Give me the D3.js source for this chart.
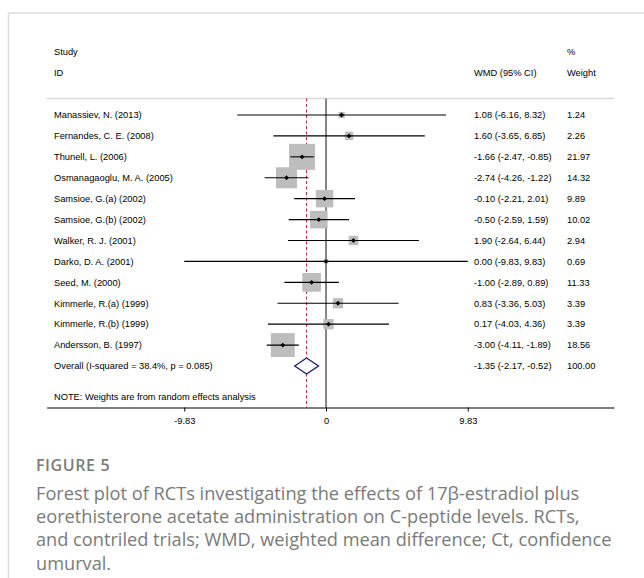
<!DOCTYPE html>
<html>
<head>
<meta charset="utf-8">
<script src="https://cdn.jsdelivr.net/npm/d3@7"></script>
<style>
  html, body { margin: 0; padding: 0; background: #fff; }
  svg { display: block; }
  .plot text { font-family: "Liberation Sans", Arial, sans-serif; font-size: 9.3px; fill: #000; }
  .caption text { font-family: "Open Sans", sans-serif; fill: #7a7a7a; }
</style>
</head>
<body>
<div id="chart"></div>
<script>
// Study data
const studies = [
  "Manassiev, N. (2013)",
  "Fernandes, C. E. (2008)",
  "Thunell, L. (2006)",
  "Osmanagaoglu, M. A. (2005)",
  "Samsioe, G.(a) (2002)",
  "Samsioe, G.(b) (2002)",
  "Walker, R. J. (2001)",
  "Darko, D. A. (2001)",
  "Seed, M. (2000)",
  "Kimmerle, R.(a) (1999)",
  "Kimmerle, R.(b) (1999)",
  "Andersson, B. (1997)"
];
const wmd   = [1.08, 1.60, -1.66, -2.74, -0.10, -0.50, 1.90, 0.00, -1.00, 0.83, 0.17, -3.00];
const lower = [-6.16, -3.65, -2.47, -4.26, -2.21, -2.59, -2.64, -9.83, -2.89, -3.36, -4.03, -4.11];
const upper = [8.32, 6.85, -0.85, -1.22, 2.01, 1.59, 6.44, 9.83, 0.89, 5.03, 4.36, -1.89];
const weights = [1.24, 2.26, 21.97, 14.32, 9.89, 10.02, 2.94, 0.69, 11.33, 3.39, 3.39, 18.56];

const overallLabel = "Overall  (I-squared = 38.4%, p = 0.085)";
const overall = { est: -1.35, lo: -2.17, hi: -0.52, weight: 100.00 };
const tickValues = [-9.83, 0, 9.83];
const tickLabels = ["-9.83", "0", "9.83"];
const note = "NOTE: Weights are from random effects analysis";

const captionTitle = "FIGURE 5";
const captionLines = [
  "Forest plot of RCTs investigating the effects of 17\u03b2-estradiol plus",
  "eorethisterone acetate administration on C-peptide levels. RCTs,",
  "and contriled trials; WMD, weighted mean difference; Ct, confidence",
  "umurval."
];

const width = 644, height = 578;
const svg = d3.select('#chart').append('svg')
  .attr('width', width)
  .attr('height', height);

// frame (top and left rules)
svg.append('line').attr('x1', 8.5).attr('x2', width).attr('y1', 13).attr('y2', 13)
  .attr('stroke', '#dcdcdc').attr('stroke-width', 1.5);
svg.append('line').attr('x1', 8.5).attr('x2', 8.5).attr('y1', 13).attr('y2', height)
  .attr('stroke', '#dcdcdc').attr('stroke-width', 1.5);

const plot = svg.append('g').attr('class', 'plot');

const x = d3.scaleLinear().domain([-19.37, 19.97]).range([46.7, 614]);
const rowIdx = d3.range(studies.length + 1);
const y = d3.scalePoint().domain(rowIdx).range([115, 366]);
const boxSide = d3.scaleSqrt().domain([0, 1]).range([0, 5.55]);

const textX = 54, wmdX = 474, wtX = 567;
const sepY = 98.5, axisY = 407.5;

// header
plot.append('text').attr('x', textX).attr('y', 52).attr('dy', '0.35em').text('Study');
plot.append('text').attr('x', textX).attr('y', 73).attr('dy', '0.35em').text('ID');
plot.append('text').attr('x', wmdX).attr('y', 73).attr('dy', '0.35em').text('WMD (95% CI)');
plot.append('text').attr('x', wtX).attr('y', 52).attr('dy', '0.35em').text('%');
plot.append('text').attr('x', wtX).attr('y', 73).attr('dy', '0.35em').text('Weight');

plot.append('line')
  .attr('x1', x.range()[0]).attr('x2', x.range()[1])
  .attr('y1', sepY).attr('y2', sepY)
  .attr('stroke', '#d9d9d9').attr('stroke-width', 1.5);

// no-effect line
plot.append('line')
  .attr('x1', x(0)).attr('x2', x(0))
  .attr('y1', sepY).attr('y2', axisY)
  .attr('stroke', '#858585').attr('stroke-width', 2);

// overall effect dashed line
plot.append('line')
  .attr('x1', x(overall.est)).attr('x2', x(overall.est))
  .attr('y1', sepY).attr('y2', axisY)
  .attr('stroke', '#b0283a').attr('stroke-width', 1)
  .attr('stroke-dasharray', '3,2.5');

const rows = studies.map((s, i) => ({
  name: s, est: wmd[i], lo: lower[i], hi: upper[i], w: weights[i], i
}));

const g = plot.selectAll('g.row').data(rows).enter().append('g').attr('class', 'row');

g.append('rect')
  .attr('x', d => x(d.est) - boxSide(d.w) / 2)
  .attr('y', d => y(d.i) - boxSide(d.w) / 2)
  .attr('width', d => boxSide(d.w))
  .attr('height', d => boxSide(d.w))
  .attr('fill', '#bdbdbd');

g.append('line')
  .attr('x1', d => x(d.lo)).attr('x2', d => x(d.hi))
  .attr('y1', d => y(d.i)).attr('y2', d => y(d.i))
  .attr('stroke', '#000').attr('stroke-width', 1.1);

g.append('path')
  .attr('d', d => {
    const cx = x(d.est), cy = y(d.i), r = 2.4;
    return `M${cx - r},${cy}L${cx},${cy - r}L${cx + r},${cy}L${cx},${cy + r}Z`;
  })
  .attr('fill', '#000');

g.append('text').attr('x', textX).attr('y', d => y(d.i)).attr('dy', '0.35em').text(d => d.name);
g.append('text').attr('x', wmdX).attr('y', d => y(d.i)).attr('dy', '0.35em')
  .text(d => `${d.est.toFixed(2)} (${d.lo.toFixed(2)}, ${d.hi.toFixed(2)})`);
g.append('text').attr('x', wtX).attr('y', d => y(d.i)).attr('dy', '0.35em')
  .text(d => d.w.toFixed(2));

// overall row
const oy = y(studies.length);
plot.append('path')
  .attr('d', `M${x(overall.lo)},${oy}L${x(overall.est)},${oy - 8}L${x(overall.hi)},${oy}L${x(overall.est)},${oy + 8}Z`)
  .attr('fill', '#fff').attr('stroke', '#1c1c7a').attr('stroke-width', 1.3);
plot.append('text').attr('x', textX).attr('y', oy).attr('dy', '0.35em').text(overallLabel);
plot.append('text').attr('x', wmdX).attr('y', oy).attr('dy', '0.35em')
  .text(`${overall.est.toFixed(2)} (${overall.lo.toFixed(2)}, ${overall.hi.toFixed(2)})`);
plot.append('text').attr('x', wtX).attr('y', oy).attr('dy', '0.35em').text(overall.weight.toFixed(2));

plot.append('text').attr('x', textX).attr('y', 397).attr('dy', '0.35em').text(note);

// axis
const axis = plot.append('g')
  .attr('transform', `translate(0,${axisY})`)
  .call(d3.axisBottom(x).tickValues(tickValues).tickSize(4).tickSizeOuter(0)
    .tickFormat((d, i) => tickLabels[i]));
axis.select('.domain').attr('stroke', '#000').attr('stroke-width', 1.2);
axis.selectAll('.tick line').attr('stroke', '#000');
axis.selectAll('.tick text')
  .attr('y', 10)
  .style('font-family', '"Liberation Sans", Arial, sans-serif')
  .style('font-size', '9.3px')
  .attr('fill', '#000');

// caption
const capX = 36;
const cap = svg.append('g').attr('class', 'caption');
cap.append('text').attr('x', capX).attr('y', 470.5)
  .style('font-size', '16px').style('font-weight', 600).style('letter-spacing', '0.6px')
  .attr('fill', '#858585')
  .text(captionTitle);
cap.selectAll('text.line').data(captionLines).enter().append('text')
  .attr('class', 'line')
  .attr('x', capX)
  .attr('y', (d, i) => 499.5 + i * 23.4)
  .style('font-size', '18.2px')
  .text(d => d);
</script>
</body>
</html>
